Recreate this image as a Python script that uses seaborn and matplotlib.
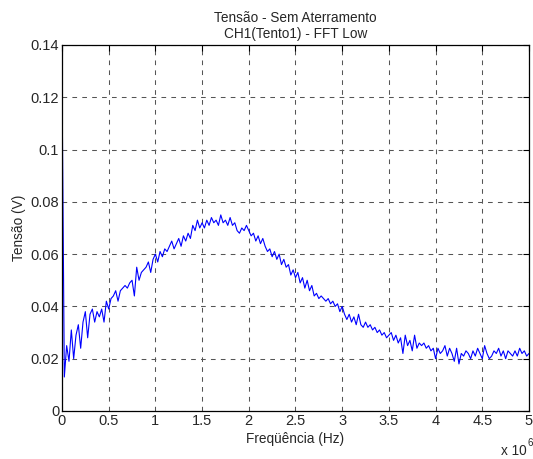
import numpy as np
import pandas as pd
import matplotlib
matplotlib.use("Agg")
import matplotlib.pyplot as plt
from matplotlib.ticker import FuncFormatter, MultipleLocator
import seaborn as sns

sns.set_theme(style="white")
plt.rcParams['font.family'] = ['Liberation Sans', 'DejaVu Sans']

# frequency step of the spectrum (Hz)
freq_step = 25000
# spectrum amplitude (V), one value per frequency step from 0 to 5 MHz
tensao = [
    0.128, 0.013, 0.025, 0.019, 0.031, 0.020, 0.029, 0.033, 0.024, 0.034,
    0.038, 0.028, 0.037, 0.039, 0.034, 0.038, 0.036, 0.039, 0.034, 0.042,
    0.039, 0.043, 0.044, 0.046, 0.042, 0.046, 0.047, 0.048, 0.047, 0.049,
    0.050, 0.044, 0.055, 0.050, 0.053, 0.054, 0.055, 0.057, 0.053, 0.058,
    0.060, 0.057, 0.061, 0.059, 0.062, 0.061, 0.063, 0.065, 0.062, 0.064,
    0.066, 0.063, 0.067, 0.065, 0.068, 0.066, 0.071, 0.069, 0.073, 0.070,
    0.072, 0.070, 0.073, 0.071, 0.074, 0.072, 0.073, 0.071, 0.075, 0.072,
    0.073, 0.071, 0.074, 0.071, 0.072, 0.069, 0.068, 0.070, 0.069, 0.071,
    0.069, 0.067, 0.068, 0.065, 0.067, 0.064, 0.066, 0.063, 0.061, 0.062,
    0.059, 0.061, 0.058, 0.060, 0.056, 0.058, 0.055, 0.056, 0.052, 0.054,
    0.051, 0.053, 0.049, 0.051, 0.047, 0.050, 0.046, 0.048, 0.044, 0.045,
    0.043, 0.044, 0.043, 0.042, 0.043, 0.041, 0.042, 0.040, 0.041, 0.038,
    0.040, 0.037, 0.035, 0.037, 0.034, 0.036, 0.033, 0.037, 0.033, 0.032,
    0.034, 0.032, 0.033, 0.031, 0.032, 0.030, 0.031, 0.029, 0.030, 0.028,
    0.029, 0.030, 0.027, 0.029, 0.026, 0.028, 0.022, 0.029, 0.025, 0.027,
    0.023, 0.029, 0.024, 0.026, 0.025, 0.026, 0.024, 0.025, 0.023, 0.024,
    0.020, 0.024, 0.022, 0.023, 0.025, 0.021, 0.024, 0.022, 0.019, 0.024,
    0.018, 0.022, 0.021, 0.023, 0.022, 0.020, 0.023, 0.021, 0.024, 0.022,
    0.020, 0.025, 0.022, 0.020, 0.021, 0.023, 0.022, 0.024, 0.021, 0.023,
    0.020, 0.023, 0.022, 0.021, 0.023, 0.021, 0.024, 0.022, 0.023, 0.021,
    0.022,
]
frequencia = np.arange(len(tensao)) * freq_step

df = pd.DataFrame({"freq": frequencia, "tensao": tensao})

fig = plt.figure(figsize=(5.33, 4.59), dpi=100)
ax = fig.add_axes([0.1163, 0.1046, 0.8762, 0.7974])

sns.lineplot(data=df, x="freq", y="tensao", ax=ax, color="#0000ff",
             linewidth=0.8, estimator=None)

ax.set_xlim(0, 5e6)
ax.set_ylim(0, 0.14)
ax.xaxis.set_major_locator(MultipleLocator(0.5e6))
ax.yaxis.set_major_locator(MultipleLocator(0.02))
ax.xaxis.set_major_formatter(FuncFormatter(lambda v, p: f"{v / 1e6:g}"))
ax.yaxis.set_major_formatter(FuncFormatter(lambda v, p: f"{v:g}"))

# MATLAB-like box and dashed grid
for s in ax.spines.values():
    s.set_color("black")
    s.set_linewidth(0.9)
ax.tick_params(direction="in", length=4, width=0.8, color="black",
               top=True, right=True, labelsize=10.5, pad=2)
ax.grid(True, color="#555555", linestyle=(0, (4.5, 5)), linewidth=0.75)

ax.set_xlabel("Freqüência (Hz)", fontsize=9.8, labelpad=3)
ax.set_ylabel("Tensão (V)", fontsize=9.8, labelpad=3)
ax.set_title("Tensão - Sem Aterramento\nCH1(Tento1) - FFT Low",
             fontsize=9.8, pad=5, linespacing=1.2)

ax.text(0.995, -0.09, "x 10", transform=ax.transAxes, fontsize=9.8,
        ha="right", va="top")
ax.text(0.997, -0.075, "6", transform=ax.transAxes, fontsize=7,
        ha="left", va="top")

fig.savefig("out.png", dpi=100, facecolor="white")
